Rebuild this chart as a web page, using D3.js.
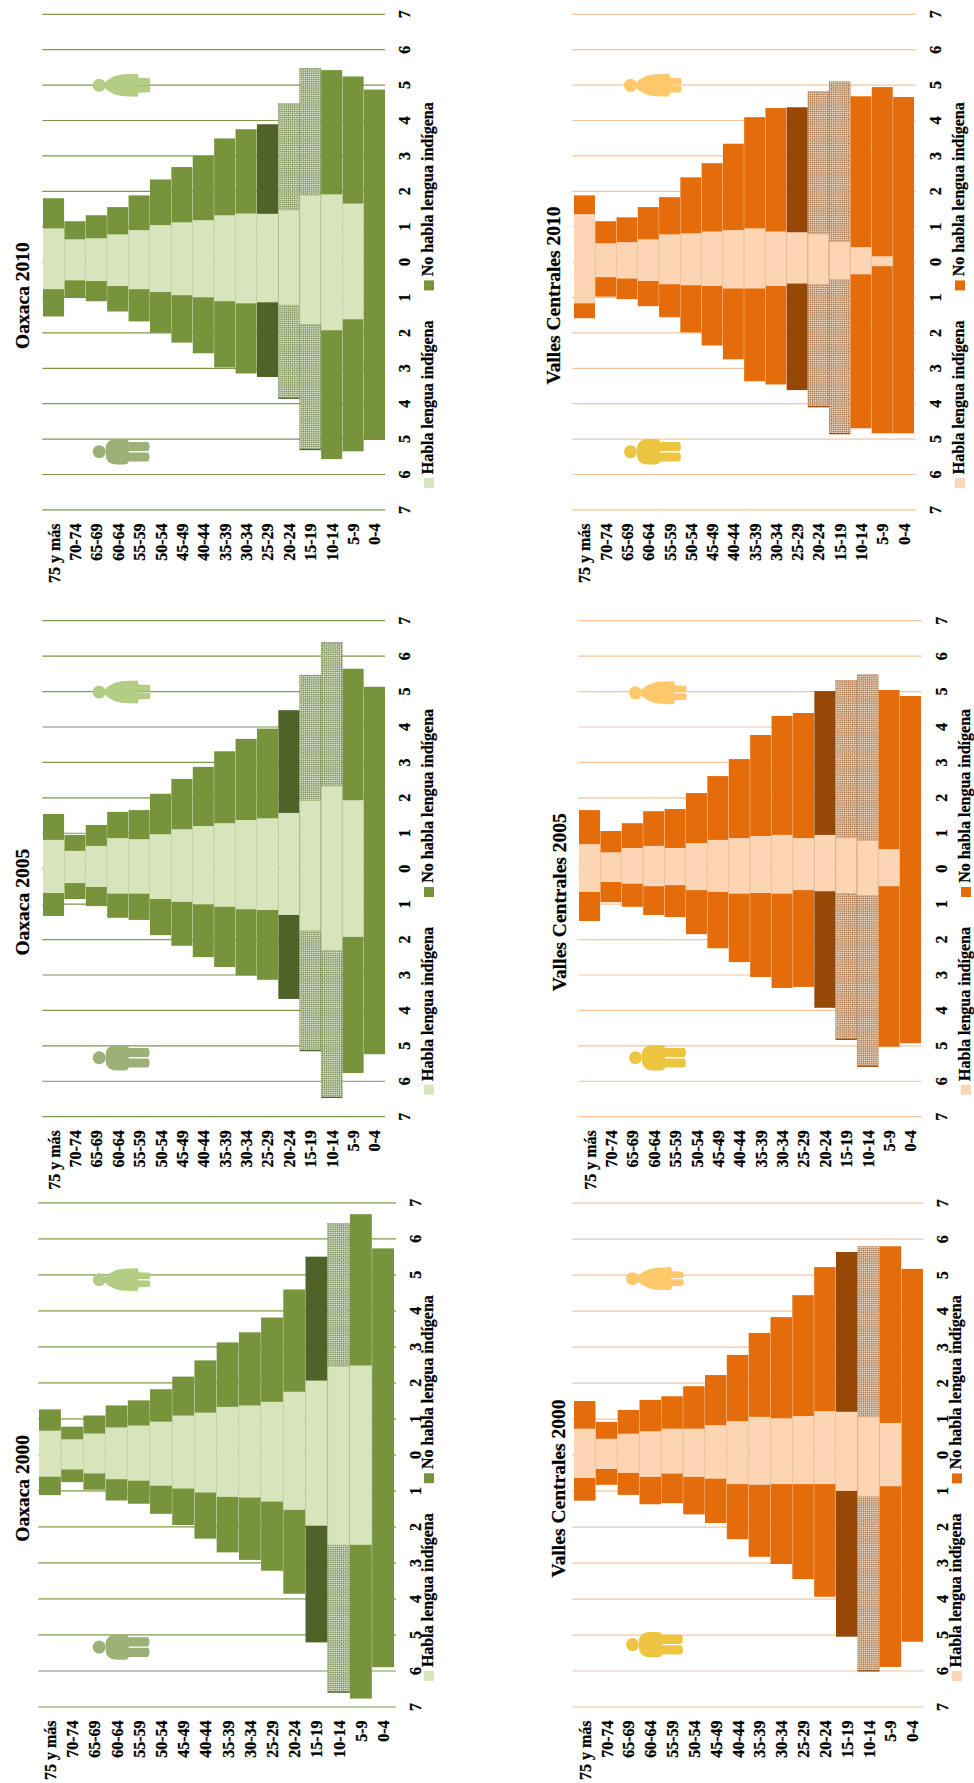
<!DOCTYPE html>
<html>
<head>
<meta charset="utf-8">
<script src="https://cdn.jsdelivr.net/npm/d3@7"></script>
<style>
  html, body { margin: 0; padding: 0; background: #fff; }
  svg { display: block; }
  text { font-family: "Liberation Serif", serif; font-weight: bold; fill: #000; stroke: #000; stroke-width: .25; }
</style>
</head>
<body>
<div id="chart"></div>
<script>
const ages = ["75 y más","70-74","65-69","60-64","55-59","50-54","45-49","40-44","35-39","30-34","25-29","20-24","15-19","10-14","5-9","0-4"];
const valueTicks = [-7,-6,-5,-4,-3,-2,-1,0,1,2,3,4,5,6,7];

// porcentajes, de 75 y mas a 0-4
const oaxaca2000MujeresTotal = [1.25,.77,1.08,1.36,1.50,1.81,2.16,2.61,3.11,3.39,3.80,4.58,5.49,6.41,6.67,5.72];
const oaxaca2000HombresTotal = [1.13,.77,.98,1.28,1.37,1.65,1.96,2.34,2.72,2.93,3.23,3.87,5.22,6.60,6.78,5.91];
const oaxaca2000MujeresHabla = [.66,.42,.58,.75,.80,.91,1.08,1.16,1.32,1.36,1.46,1.74,2.05,2.45,2.47,0];
const oaxaca2000HombresHabla = [.62,.42,.53,.69,.73,.87,.95,1.06,1.18,1.20,1.31,1.54,1.98,2.52,2.51,0];

const oaxaca2005MujeresTotal = [1.53,.94,1.22,1.59,1.64,2.10,2.52,2.86,3.30,3.65,3.94,4.46,5.45,6.38,5.63,5.12];
const oaxaca2005HombresTotal = [1.35,.87,1.07,1.40,1.46,1.89,2.19,2.51,2.79,3.03,3.15,3.69,5.15,6.47,5.78,5.25];
const oaxaca2005MujeresHabla = [.80,.49,.63,.85,.82,.96,1.10,1.19,1.27,1.36,1.41,1.56,1.91,2.32,1.92,0];
const oaxaca2005HombresHabla = [.70,.42,.53,.72,.72,.87,.95,1.02,1.09,1.16,1.18,1.32,1.77,2.33,1.94,0];

const oaxaca2010MujeresTotal = [1.79,1.14,1.31,1.54,1.87,2.32,2.67,2.99,3.48,3.74,3.88,4.46,5.46,5.41,5.23,4.86];
const oaxaca2010HombresTotal = [1.55,1.03,1.12,1.41,1.69,2.01,2.29,2.59,2.99,3.16,3.26,3.86,5.31,5.58,5.36,5.04];
const oaxaca2010MujeresHabla = [.94,.63,.66,.77,.89,1.03,1.11,1.17,1.31,1.36,1.35,1.46,1.88,1.90,1.64,0];
const oaxaca2010HombresHabla = [.78,.53,.55,.69,.78,.86,.95,1.01,1.12,1.18,1.15,1.23,1.78,1.94,1.63,0];

const valles2000MujeresTotal = [1.49,.91,1.24,1.52,1.62,1.90,2.21,2.77,3.38,3.82,4.43,5.21,5.63,5.78,5.79,5.16];
const valles2000HombresTotal = [1.28,.84,1.12,1.38,1.35,1.66,1.90,2.35,2.84,3.04,3.46,3.95,5.06,6.01,5.90,5.20];
const valles2000MujeresHabla = [.72,.44,.58,.65,.72,.72,.82,.93,1.05,1.01,1.07,1.21,1.19,1.05,.88,0];
const valles2000HombresHabla = [.65,.40,.51,.62,.53,.62,.67,.82,.84,.82,.82,.82,1.01,1.16,.88,0];

const valles2005MujeresTotal = [1.64,1.05,1.27,1.61,1.67,2.12,2.60,3.08,3.76,4.30,4.38,5.00,5.30,5.46,5.03,4.86];
const valles2005HombresTotal = [1.49,.96,1.09,1.32,1.38,1.86,2.26,2.65,3.07,3.38,3.35,3.94,4.83,5.59,5.04,4.94];
const valles2005MujeresHabla = [.68,.45,.57,.63,.57,.71,.80,.85,.91,.94,.85,.94,.86,.78,.54,0];
const valles2005HombresHabla = [.67,.39,.44,.51,.48,.62,.67,.72,.70,.72,.62,.65,.71,.77,.51,0];

const valles2010MujeresTotal = [1.87,1.14,1.25,1.54,1.82,2.38,2.78,3.33,4.08,4.34,4.36,4.80,5.08,4.67,4.93,4.65];
const valles2010HombresTotal = [1.60,.99,1.06,1.26,1.57,2.00,2.37,2.76,3.38,3.47,3.63,4.10,4.86,4.71,4.85,4.85];
const valles2010MujeresHabla = [1.34,.52,.55,.63,.77,.80,.85,.89,.94,.85,.83,.78,.56,.41,.15,0];
const valles2010HombresHabla = [1.18,.44,.48,.55,.64,.67,.69,.76,.76,.69,.62,.64,.51,.36,.13,0];

const green = {light:"#d8e4bc", main:"#77933c", dark:"#4f6228", line:"#7f9a48", woman:"#b3cd84", man:"#9bb177", edge:"#a9bd80", hatch:"#5f7a34"};
const orange = {light:"#fcd5b5", main:"#e46c0a", dark:"#974806", line:"#f6c49c", woman:"#ffc86a", man:"#eec540", edge:"#e0ad80", hatch:"#a05a22"};

const panels = [
  {title:"Oaxaca 2000", color:green, id:"g", women:oaxaca2000MujeresTotal, men:oaxaca2000HombresTotal, womenH:oaxaca2000MujeresHabla, menH:oaxaca2000HombresHabla, dark:["15-19"], hatched:["10-14"],
   gridL:38.3, gridR:396, barL:39, barR:394, top:1202.3, bottom:1706.5, titleX:29, legendX:424, personX:92.7, womanV:4.85, manV:-5.35},
  {title:"Oaxaca 2005", color:green, id:"g", women:oaxaca2005MujeresTotal, men:oaxaca2005HombresTotal, womenH:oaxaca2005MujeresHabla, menH:oaxaca2005HombresHabla, dark:["20-24"], hatched:["15-19","10-14"],
   gridL:42.3, gridR:385, barL:43, barR:385, top:620.2, bottom:1116.2, titleX:29.3, legendX:424, personX:92.7, womanV:4.97, manV:-5.35},
  {title:"Oaxaca 2010", color:green, id:"g", women:oaxaca2010MujeresTotal, men:oaxaca2010HombresTotal, womenH:oaxaca2010MujeresHabla, menH:oaxaca2010HombresHabla, dark:["25-29"], hatched:["20-24","15-19"],
   gridL:42.3, gridR:385, barL:43, barR:385, top:13.8, bottom:509.4, titleX:29.3, legendX:424, personX:92.7, womanV:4.98, manV:-5.37},
  {title:"Valles Centrales 2000", color:orange, id:"o", women:valles2000MujeresTotal, men:valles2000HombresTotal, womenH:valles2000MujeresHabla, menH:valles2000HombresHabla, dark:["15-19"], hatched:["10-14"],
   gridL:572.3, gridR:923.3, barL:574, barR:923, top:1202.7, bottom:1706.5, titleX:565, legendX:952, personX:626, womanV:4.89, manV:-5.28},
  {title:"Valles Centrales 2005", color:orange, id:"o", women:valles2005MujeresTotal, men:valles2005HombresTotal, womenH:valles2005MujeresHabla, menH:valles2005HombresHabla, dark:["20-24"], hatched:["15-19","10-14"],
   gridL:578.3, gridR:921.7, barL:579, barR:921, top:620.2, bottom:1116.2, titleX:566, legendX:961, personX:629, womanV:4.95, manV:-5.35},
  {title:"Valles Centrales 2010", color:orange, id:"o", women:valles2010MujeresTotal, men:valles2010HombresTotal, womenH:valles2010MujeresHabla, menH:valles2010HombresHabla, dark:["25-29"], hatched:["20-24","15-19"],
   gridL:572.3, gridR:915.7, barL:574, barR:914, top:13.8, bottom:509.4, titleX:560, legendX:955, personX:624, womanV:4.98, manV:-5.37}
];

const svg = d3.select("#chart").append("svg").attr("width", 974).attr("height", 1783);

function addHatch(id, c){
  const p = svg.append("defs").append("pattern")
    .attr("id", "hatch-" + id)
    .attr("patternUnits", "userSpaceOnUse")
    .attr("width", 3).attr("height", 3)
    .attr("patternTransform", "rotate(45)");
  p.append("rect").attr("width", 3).attr("height", 3).attr("fill", "#f8f8f0");
  p.append("rect").attr("width", 1.5).attr("height", 1.5).attr("fill", c.hatch);
  p.append("rect").attr("x", 1.5).attr("y", 1.5).attr("width", 1.5).attr("height", 1.5).attr("fill", c.hatch);
}
addHatch("g", green);
addHatch("o", orange);

// texto girado como en el original
function vText(g, x, y, str, size, anchor){
  return g.append("text")
    .attr("transform", `translate(${x},${y}) rotate(-90)`)
    .attr("text-anchor", anchor)
    .attr("font-size", size)
    .text(str);
}

function drawPerson(g, kind, c){
  const col = kind === "woman" ? c.woman : c.man;
  g.append("circle").attr("cx", 6.5).attr("r", 6.5).attr("fill", col);
  const d = kind === "woman"
    ? "M12,-2.5 C16,-6.5 22,-10.5 32,-11 L45,-11.5 L46,-7.5 L57,-7 C58.5,-3.5 57,-.7 57,-.7 L45,-.5 L45,.5 L57,.7 C57,.7 58.5,3.5 57,7 L46,7.5 L45,11.5 L32,11 C22,10.5 16,6.5 12,2.5 Z"
    : "M13,-4.5 C14,-10 18,-12.7 24,-12.7 L32,-12.7 C35,-12.7 36,-10.5 36,-9.8 L55,-9.8 C57.5,-9 57.5,-1 55,-.7 L36,-.7 L36,.7 L55,.7 C57.5,1 57.5,9 55,9.8 L36,9.8 C36,10.5 35,12.7 32,12.7 L24,12.7 C18,12.7 14,10 13,4.5 Z";
  g.append("path").attr("d", d).attr("fill", col);
}

panels.forEach(p => {
  const c = p.color;
  const g = svg.append("g");
  const y = d3.scaleLinear().domain([-7, 7]).range([p.bottom, p.top]);
  const x = d3.scaleBand().domain(ages).range([p.barL, p.barR]).paddingInner(0.015);
  const zero = y(0);

  // rejilla y etiquetas de valor
  const gridW = p.gridR - p.gridL;
  const yAxis = g.append("g")
    .attr("transform", `translate(${p.gridL},0)`)
    .call(d3.axisRight(y).tickValues(valueTicks).tickSize(gridW).tickFormat(d => Math.abs(d)));
  yAxis.select(".domain").remove();
  yAxis.selectAll("line").attr("stroke", c.line).attr("stroke-width", 1.2);
  yAxis.selectAll("text")
    .attr("x", null).attr("dy", null)
    .attr("transform", `translate(${gridW + 25},0) rotate(-90)`)
    .attr("text-anchor", "middle")
    .attr("font-size", 16)
    .attr("font-family", null);

  // etiquetas de edad
  const xAxis = g.append("g")
    .attr("transform", `translate(0,${p.bottom + 14})`)
    .call(d3.axisBottom(x).tickSize(0));
  xAxis.select(".domain").remove();
  xAxis.selectAll("text")
    .attr("y", null).attr("dy", null)
    .attr("transform", "translate(6,0) rotate(-90)")
    .attr("text-anchor", "end")
    .attr("font-size", 16)
    .attr("font-family", null);

  const barFill = a => {
    if (p.hatched.includes(a)) return `url(#hatch-${p.id})`;
    return p.dark.includes(a) ? c.dark : c.main;
  };

  // barra completa de mujeres (arriba) a hombres (abajo)
  g.append("g").selectAll("rect")
    .data(ages)
    .join("rect")
    .attr("x", a => x(a))
    .attr("width", x.bandwidth())
    .attr("y", (a, i) => y(p.women[i]))
    .attr("height", (a, i) => y(-p.men[i]) - y(p.women[i]))
    .attr("fill", barFill)
    .attr("stroke", a => p.hatched.includes(a) ? c.dark : "none")
    .attr("stroke-width", .5)
    .attr("stroke-opacity", .6);

  // linea oscura en el extremo inferior de las barras tramadas
  g.append("g").selectAll("line")
    .data(p.hatched)
    .join("line")
    .attr("x1", a => x(a))
    .attr("x2", a => x(a) + x.bandwidth())
    .attr("y1", a => y(-p.men[ages.indexOf(a)]))
    .attr("y2", a => y(-p.men[ages.indexOf(a)]))
    .attr("stroke", c.dark)
    .attr("stroke-width", 1.2);

  // parte que habla lengua indigena
  g.append("g").selectAll("rect")
    .data(ages)
    .join("rect")
    .attr("x", a => x(a))
    .attr("width", x.bandwidth())
    .attr("y", (a, i) => y(p.womenH[i]))
    .attr("height", (a, i) => y(-p.menH[i]) - y(p.womenH[i]))
    .attr("fill", c.light)
    .attr("stroke", a => p.hatched.includes(a) ? c.edge : "none")
    .attr("stroke-width", .8);

  drawPerson(g.append("g").attr("transform", `translate(${p.personX},${y(p.womanV)})`), "woman", c);
  drawPerson(g.append("g").attr("transform", `translate(${p.personX},${y(p.manV)})`), "man", c);

  vText(g, p.titleX, zero + 34, p.title, 19.5, "middle");

  // leyenda
  g.append("rect").attr("x", p.legendX).attr("y", zero + 216.5).attr("width", 10).attr("height", 10).attr("fill", c.light);
  vText(g, p.legendX + 9, zero + 212.7, "Habla lengua indígena", 16, "start");
  g.append("rect").attr("x", p.legendX).attr("y", zero + 18.8).attr("width", 10).attr("height", 10).attr("fill", c.main);
  vText(g, p.legendX + 9, zero + 14.6, "No habla lengua indígena", 16, "start");
});
</script>
</body>
</html>
